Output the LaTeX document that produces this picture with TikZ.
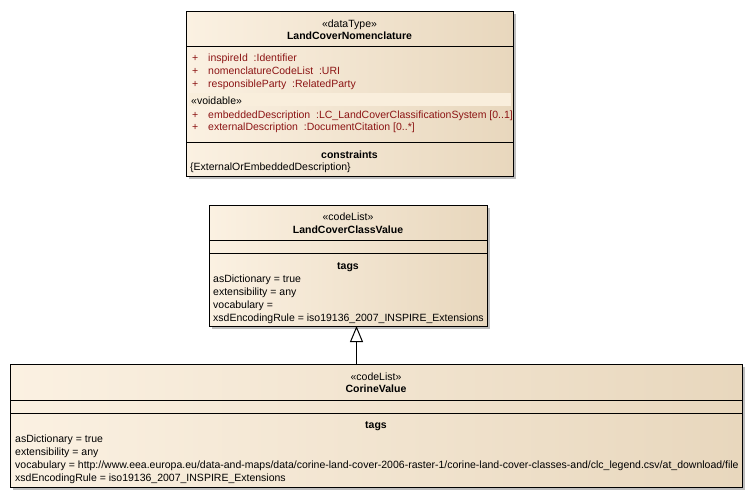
\documentclass[tikz,border=0pt]{standalone}
\usepackage{fontspec}
\setmainfont{Liberation Sans}
\usetikzlibrary{shadows,arrows.meta}
\definecolor{gradL}{RGB}{251,241,226}
\definecolor{gradR}{RGB}{232,215,189}
\definecolor{attred}{RGB}{140,20,20}
\definecolor{shadowgray}{RGB}{190,190,190}
\definecolor{bandcol}{RGB}{249,238,220}
\tikzset{
  umlbox/.style={draw=black, line width=1pt, inner sep=0pt, outer sep=0pt,
    left color=gradL, right color=gradR,
    drop shadow={shadow xshift=3pt, shadow yshift=-3pt, fill=shadowgray, opacity=1}},
  divider/.style={line width=1pt},
  txt/.style={inner sep=0pt, anchor=base west, font=\fontsize{10.5}{12}\selectfont},
  ctxt/.style={inner sep=0pt, anchor=base, font=\fontsize{10.5}{12}\selectfont},
  btxt/.style={ctxt, font=\fontsize{10.5}{12}\selectfont\bfseries},
  att/.style={txt, text=attred},
  gen/.style={line width=1pt, -{Triangle[open, fill=white, length=16pt, width=13pt]}}
}
\begin{document}
\begin{tikzpicture}[x=1pt, y=-1pt]
\useasboundingbox (0,0) rectangle (752,498);
% ---------- LandCoverNomenclature ----------
\node[umlbox, minimum width=327pt, minimum height=165pt] (nom) at (349.5,93.5) {};
\draw[divider] (nom.west |- 0,46) -- (nom.east |- 0,46);
\draw[divider] (nom.west |- 0,142) -- (nom.east |- 0,142);
\fill[bandcol] (189,93) rectangle (511,106);
\node[ctxt] (nomst) at (349.5,27) {«dataType»};
\node[btxt] (nomname) at (349.5,39) {LandCoverNomenclature};
\node[att] (p1) at (192,61) {+};
\node[att] (a1) at (208,61) {inspireId\ \ :Identifier};
\node[att] (p2) at (192,74) {+};
\node[att] (a2) at (208,74) {nomenclatureCodeList\ \ :URI};
\node[att] (p3) at (192,87) {+};
\node[att] (a3) at (208,87) {responsibleParty\ \ :RelatedParty};
\node[txt] (vo) at (191,104) {«voidable»};
\node[att] (p4) at (192,118) {+};
\node[att] (a4) at (208,118) {embeddedDescription\ \ :LC\_LandCoverClassificationSystem [0..1]};
\node[att] (p5) at (192,130) {+};
\node[att] (a5) at (208,130) {externalDescription\ \ :DocumentCitation [0..*]};
\node[btxt] (cons) at (349.5,158) {constraints};
\node[txt] (c1) at (190,170) {\{ExternalOrEmbeddedDescription\}};
% ---------- LandCoverClassValue ----------
\node[umlbox, minimum width=278pt, minimum height=121pt] (lcc) at (348,265.5) {};
\draw[divider] (lcc.west |- 0,240) -- (lcc.east |- 0,240);
\draw[divider] (lcc.west |- 0,253) -- (lcc.east |- 0,253);
\node[ctxt] (lccst) at (348,220) {«codeList»};
\node[btxt] (lccname) at (348,233) {LandCoverClassValue};
\node[btxt] (lcctags) at (348,269) {tags};
\node[txt] (l1) at (213,282) {asDictionary = true};
\node[txt] (l2) at (213,295) {extensibility = any};
\node[txt] (l3) at (213,308) {vocabulary =};
\node[txt] (l4) at (213,321) {xsdEncodingRule = iso19136\_2007\_INSPIRE\_Extensions};
% ---------- CorineValue ----------
\node[umlbox, minimum width=732pt, minimum height=123pt] (cor) at (376,425.5) {};
\draw[divider] (cor.west |- 0,400) -- (cor.east |- 0,400);
\draw[divider] (cor.west |- 0,413) -- (cor.east |- 0,413);
\node[ctxt] (corst) at (376,380) {«codeList»};
\node[btxt] (corname) at (376,392) {CorineValue};
\node[btxt] (cortags) at (376,428) {tags};
\node[txt] (k1) at (15,442) {asDictionary = true};
\node[txt] (k2) at (15,455) {extensibility = any};
\node[txt] (k3) at (15,468) {vocabulary = http://www.eea.europa.eu/data-and-maps/data/corine-land-cover-2006-raster-1/corine-land-cover-classes-and/clc\_legend.csv/at\_download/file};
\node[txt] (k4) at (15,481) {xsdEncodingRule = iso19136\_2007\_INSPIRE\_Extensions};
% ---------- generalization ----------
\coordinate (ax) at (356.5,0);
\draw[gen] (cor.north -| ax) -- (lcc.south -| ax);
\end{tikzpicture}
\end{document}
